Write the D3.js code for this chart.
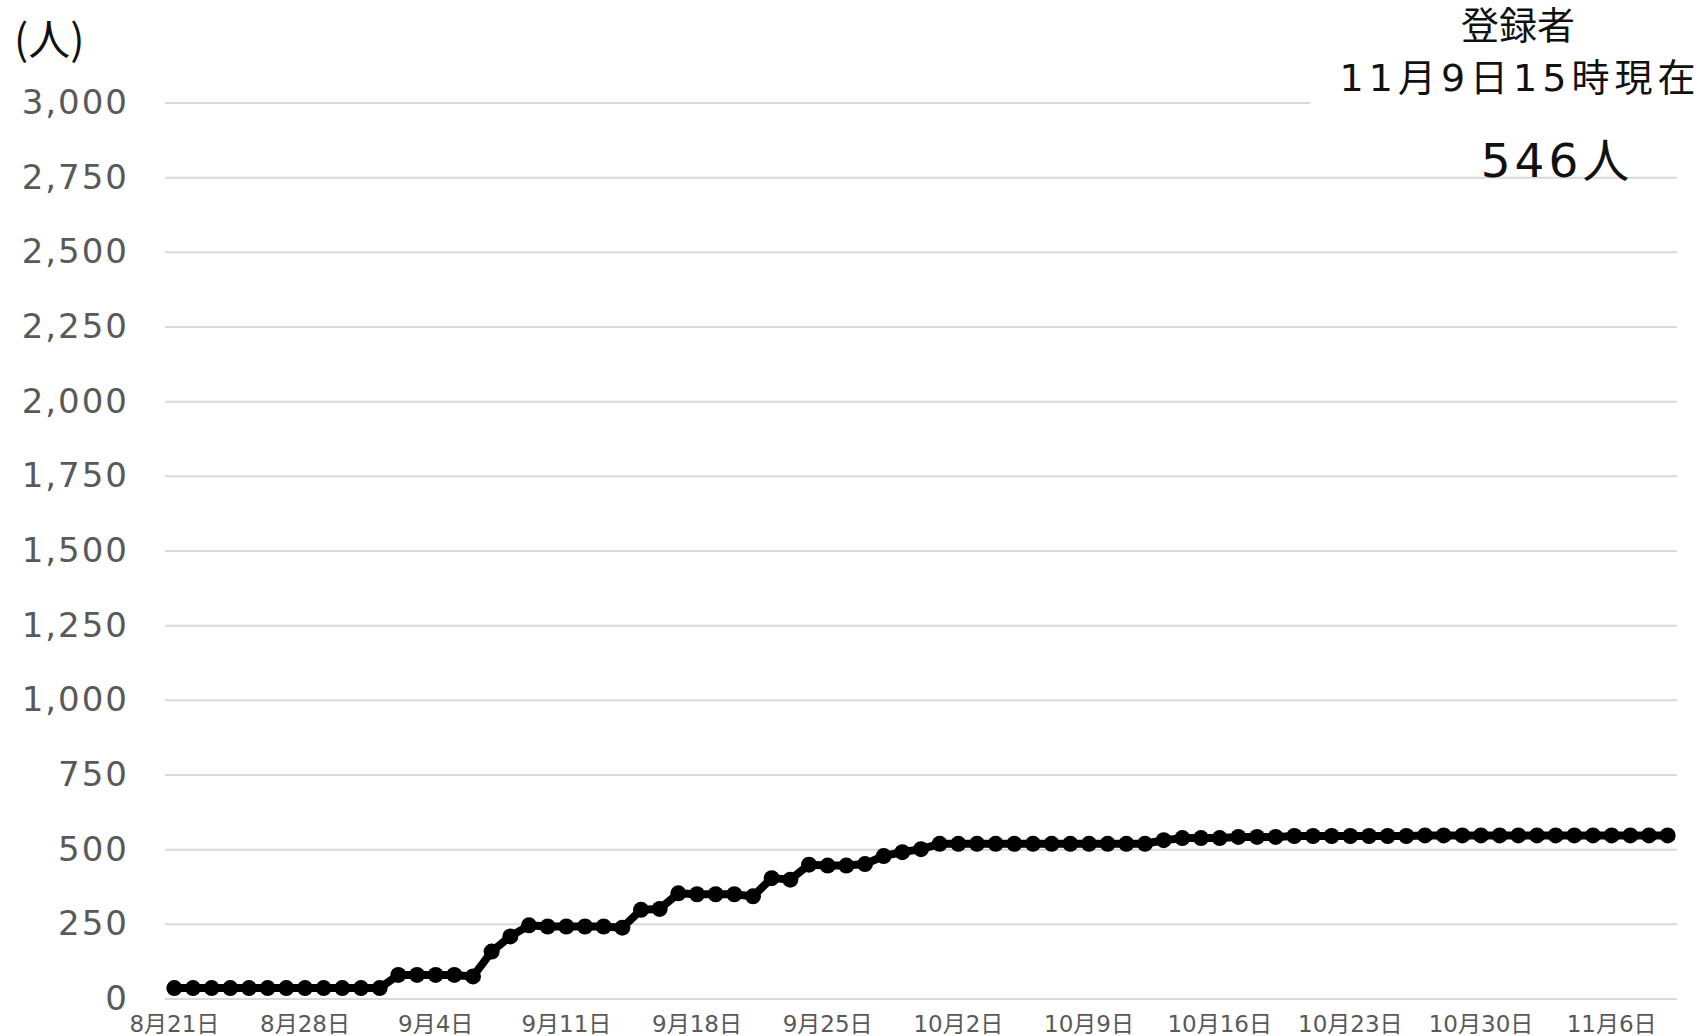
<!DOCTYPE html>
<html>
<head>
<meta charset="utf-8">
<script src="https://cdn.jsdelivr.net/npm/d3@7"></script>
<style>
  body { margin: 0; background: #fff; }
  text { font-family: "DejaVu Sans", "Noto Sans CJK JP", sans-serif; }
</style>
</head>
<body>
<svg id="chart" width="1706" height="1036"></svg>
<script>
// 日付（カテゴリ）
const dates = [
  "8月21日","8月22日","8月23日","8月24日","8月25日","8月26日","8月27日","8月28日","8月29日","8月30日","8月31日",
  "9月1日","9月2日","9月3日","9月4日","9月5日","9月6日","9月7日","9月8日","9月9日","9月10日",
  "9月11日","9月12日","9月13日","9月14日","9月15日","9月16日","9月17日","9月18日","9月19日","9月20日",
  "9月21日","9月22日","9月23日","9月24日","9月25日","9月26日","9月27日","9月28日","9月29日","9月30日",
  "10月1日","10月2日","10月3日","10月4日","10月5日","10月6日","10月7日","10月8日","10月9日","10月10日",
  "10月11日","10月12日","10月13日","10月14日","10月15日","10月16日","10月17日","10月18日","10月19日","10月20日",
  "10月21日","10月22日","10月23日","10月24日","10月25日","10月26日","10月27日","10月28日","10月29日","10月30日",
  "10月31日","11月1日","11月2日","11月3日","11月4日","11月5日","11月6日","11月7日","11月8日","11月9日"
];

// 登録者数（累計）
const registered = [
  35,35,35,35,35,35,35,35,35,35,35,
  35,79,79,79,79,74,157,208,245,241,
  241,241,241,237,297,300,352,349,349,349,
  342,403,398,448,445,445,450,477,490,500,
  518,518,518,518,518,518,518,518,518,518,
  518,518,530,537,537,537,541,541,541,544,
  544,544,544,544,544,544,546,546,546,546,
  546,546,546,546,546,546,546,546,546,546
];

// 目盛り
const yTicks = [0,250,500,750,1000,1250,1500,1750,2000,2250,2500,2750,3000];
const xTickLabels = ["8月21日","8月28日","9月4日","9月11日","9月18日","9月25日","10月2日","10月9日","10月16日","10月23日","10月30日","11月6日"];

const svg = d3.select("#chart");
const plotLeft = 165, plotRight = 1677, plotTop = 102.5, plotBottom = 998.5;

const x = d3.scaleBand().domain(dates).range([plotLeft, plotRight]);
const y = d3.scaleLinear().domain([0, 3000]).range([plotBottom, plotTop]);
const cx = d => x(d) + x.bandwidth() / 2;

// グリッド線
const grid = svg.append("g")
  .attr("transform", `translate(${plotLeft},0)`)
  .call(d3.axisLeft(y).tickValues(yTicks).tickSize(-(plotRight - plotLeft)).tickFormat(""));
grid.select(".domain").remove();
grid.selectAll("line").attr("stroke", "#d9d9d9").attr("stroke-width", 2);

// Y軸ラベル
const yAxis = svg.append("g")
  .attr("transform", `translate(${plotLeft},0)`)
  .call(d3.axisLeft(y).tickValues(yTicks).tickSize(0).tickPadding(36).tickFormat(d3.format(",")));
yAxis.select(".domain").remove();
yAxis.selectAll("text")
  .attr("fill", "#595959")
  .style("font-size", "34px")
  .style("letter-spacing", "2px")
  .style("font-family", "'DejaVu Sans', 'Noto Sans CJK JP', sans-serif");

// X軸ラベル
const xAxis = svg.append("g")
  .attr("transform", `translate(0,${plotBottom})`)
  .call(d3.axisBottom(x).tickValues(xTickLabels).tickSize(0).tickPadding(17));
xAxis.select(".domain").remove();
xAxis.selectAll("text")
  .attr("fill", "#595959")
  .style("font-size", "23px")
  .style("font-family", "'DejaVu Sans', 'Noto Sans CJK JP', sans-serif");

// 折れ線
const line = d3.line()
  .x((d, i) => cx(dates[i]))
  .y(d => y(d));

svg.append("path")
  .datum(registered)
  .attr("fill", "none")
  .attr("stroke", "#000")
  .attr("stroke-width", 8)
  .attr("stroke-linejoin", "round")
  .attr("d", line);

svg.selectAll("circle.pt")
  .data(registered)
  .enter()
  .append("circle")
  .attr("class", "pt")
  .attr("cx", (d, i) => cx(dates[i]))
  .attr("cy", d => y(d))
  .attr("r", 8)
  .attr("fill", "#000");

// 単位
svg.append("text")
  .attr("x", 14)
  .attr("y", 44)
  .attr("dominant-baseline", "middle")
  .style("font-size", "42px")
  .style("font-family", "'Noto Sans CJK JP', sans-serif")
  .attr("fill", "#111")
  .text("(人)");

// 右上の注記（白い枠）
svg.append("rect")
  .attr("x", 1310).attr("y", 0)
  .attr("width", 396).attr("height", 112)
  .attr("fill", "#fff");

svg.append("text")
  .attr("x", 1518).attr("y", 28)
  .attr("text-anchor", "middle")
  .attr("dominant-baseline", "middle")
  .style("font-size", "38px")
  .attr("fill", "#111")
  .text("登録者");

svg.append("text")
  .attr("x", 1520).attr("y", 80)
  .attr("text-anchor", "middle")
  .attr("dominant-baseline", "middle")
  .style("font-size", "38px")
  .style("letter-spacing", "5px")
  .attr("fill", "#111")
  .text("11月9日15時現在");

svg.append("text")
  .attr("x", 1557).attr("y", 164)
  .attr("text-anchor", "middle")
  .attr("dominant-baseline", "middle")
  .style("font-size", "47px")
  .style("letter-spacing", "4px")
  .attr("fill", "#111")
  .text("546人");
</script>
</body>
</html>
